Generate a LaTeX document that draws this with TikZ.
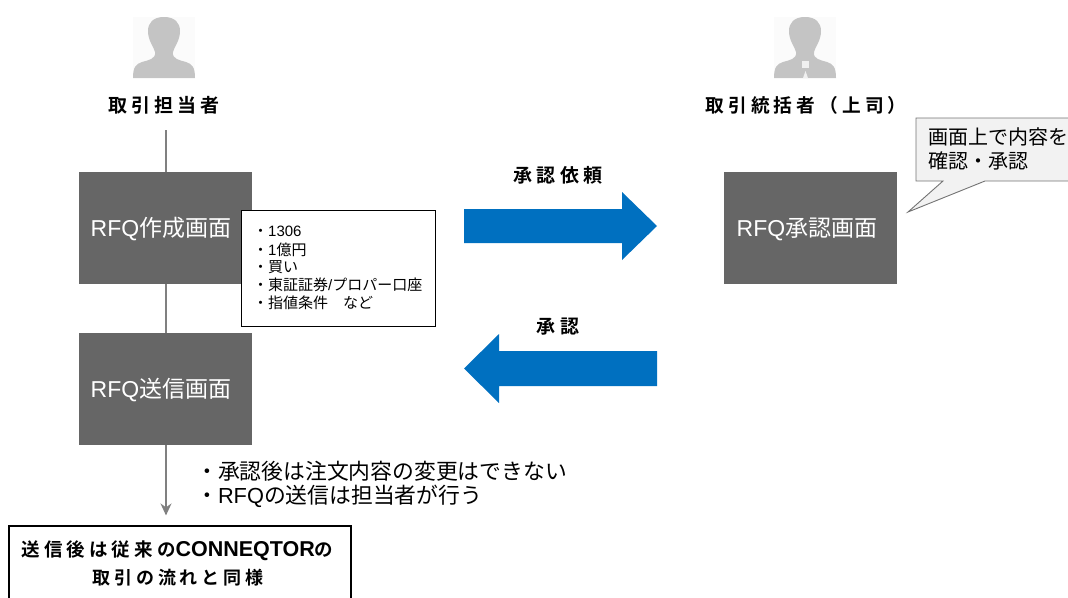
\documentclass[tikz,border=0pt]{standalone}
\usepackage{fontspec}
\usetikzlibrary{arrows.meta}
\setmainfont{Noto Sans CJK JP}
\newfontfamily\latinfont{Liberation Sans}
\newfontfamily\titlefont[LetterSpace=22]{Noto Sans CJK JP Bold}
\newfontfamily\titlelatin{Liberation Sans Bold}
\newcommand{\ltn}[1]{{\latinfont #1}}
\definecolor{screengray}{HTML}{666666}
\definecolor{arrowblue}{HTML}{0070C0}
\definecolor{icongray}{HTML}{C4C4C4}
\definecolor{noteface}{HTML}{F2F2F2}

\begin{document}
\begin{tikzpicture}[x=1pt, y=-1pt,
	screenbox/.style={fill=screengray, text=white, minimum width=173pt, minimum height=112pt, inner sep=0pt},
	screentext/.style={text=white, inner sep=0pt, font=\fontsize{23}{26}\selectfont},
	titletext/.style={font=\fontsize{19}{22}\titlefont, text=black, inner sep=0pt},
	itemtext/.style={anchor=west, inner sep=0pt, font=\fontsize{15}{18}\selectfont},
	notetext/.style={anchor=west, inner sep=0pt, font=\fontsize{21.8}{24}\selectfont},
	flowline/.style={draw=black!50, line width=1.3pt},
	person/.pic={
		\fill[black!1.5] (0,0) rectangle (62,61);
		\fill[icongray] (31,0) .. controls (42,0) and (47,6) .. (47,14) .. controls (47,24) and (41,30) .. (40,35) .. controls (39,42) and (46,43) .. (53,45) .. controls (59,47) and (62,50) .. (62,61) -- (0,61) .. controls (0,50) and (3,47) .. (9,45) .. controls (16,43) and (23,42) .. (22,35) .. controls (21,30) and (15,24) .. (15,14) .. controls (15,6) and (20,0) .. (31,0) -- cycle;
	}]

	\useasboundingbox (0,0) rectangle (1068,597);
	\clip (0,0) rectangle (1068,597);

	\pic at (133,17) {person};
	\pic at (774,17) {person};
	\fill[black!6] (802,61) rectangle (809,68);
	\fill[black!6] (803,78) -- (805.5,71) -- (808,78) -- cycle;

	\node[titletext] (Trader) at (164,105) {取引担当者};
	\node[titletext, font=\fontsize{18.7}{22}\titlefont] (Manager) at (806,105) {取引統括者（上司）};

	\node[screenbox] (Create) at (165.5,228) {};
	\node[screenbox] (Send) at (165.5,389) {};
	\node[screenbox] (Approve) at (810,228) {};
	\node[screentext] at (161,229) {\ltn{RFQ}作成画面};
	\node[screentext] at (161,390) {\ltn{RFQ}送信画面};
	\node[screentext] at (807,229) {\ltn{RFQ}承認画面};

	\coordinate (LineTop) at (166,130);
	\node[draw=black, line width=1.1pt, fill=white, minimum width=342pt, minimum height=80pt, inner sep=0pt] (Result) at (180,566) {};

	\draw[flowline] (LineTop) -- (LineTop |- Create.north);
	\draw[flowline] (LineTop |- Create.south) -- (LineTop |- Send.north);
	\draw[flowline, -{Stealth[length=12pt, width=11pt]}, shorten >=10pt] (LineTop |- Send.south) -- (LineTop |- Result.north);

	\node[draw=black, line width=1.1pt, fill=white, minimum width=194pt, minimum height=116pt, anchor=north west, inner sep=0pt] (Detail) at (241,210) {};
	\node[itemtext] at (253,231) {・\ltn{1306}};
	\node[itemtext] at (253,250) {・\ltn{1}億円};
	\node[itemtext] at (253,267) {・買い};
	\node[itemtext] at (253,285) {・東証証券\ltn{/}プロパー口座};
	\node[itemtext] at (253,303) {・指値条件　など};

	\fill[arrowblue] (464,209) -- (622,209) -- (622,192) -- (657,226) -- (622,260) -- (622,243) -- (464,243) -- cycle;
	\fill[arrowblue] (657,351) -- (499,351) -- (499,334) -- (464,368.5) -- (499,403) -- (499,386) -- (657,386) -- cycle;
	\node[titletext] at (558,175) {承認依頼};
	\node[titletext] at (558,327) {承認};

	\draw[draw=black!55, fill=noteface, line width=0.9pt] (916,118) -- (1075,118) -- (1075,181) -- (985,181) -- (908,212) -- (943,181) -- (916,181) -- cycle;
	\node[anchor=north west, inner sep=0pt, align=left, font=\fontsize{20}{24}\selectfont] (Note) at (928,127) {画面上で内容を\\確認・承認};

	\node[notetext] at (196,471) {・承認後は注文内容の変更はできない};
	\node[notetext] at (196,496) {・\ltn{RFQ}の送信は担当者が行う};

	\node[titletext, font=\fontsize{18.5}{22}\titlefont] at (177.5,551) {送信後は従来の{\fontsize{21.5}{22}\titlelatin CONNEQTOR}の};
	\node[titletext, font=\fontsize{18}{22}\titlefont] at (178,578) {取引の流れと同様};
\end{tikzpicture}
\end{document}
